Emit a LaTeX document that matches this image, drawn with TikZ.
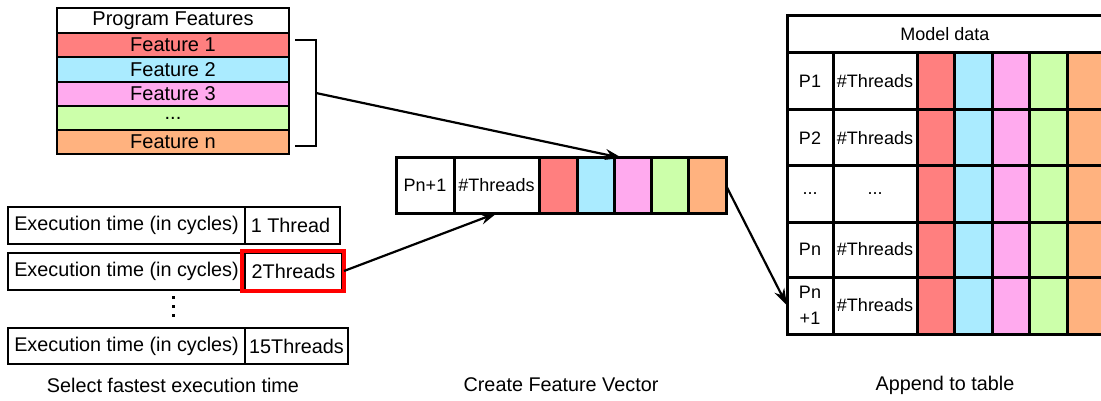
\documentclass[tikz,border=0pt]{standalone}
\usepackage{fontspec}
\setmainfont{Liberation Sans}
\usetikzlibrary{arrows.meta}
\definecolor{fone}{HTML}{FF7F7F}
\definecolor{ftwo}{HTML}{AAEBFF}
\definecolor{fthree}{HTML}{FFAAEE}
\definecolor{fdots}{HTML}{CCFFAA}
\definecolor{fn}{HTML}{FFB27F}
\tikzset{
  cell/.style={draw, line width=1.3pt, rectangle, inner sep=0pt, outer sep=0pt, anchor=north west,
    font=\fontsize{18}{19}\selectfont},
  list cell/.style={cell, font=\fontsize{20}{21}\selectfont},
  thick cell/.style={cell, line width=3pt},
  exec cell/.style={cell, line width=1.3pt, font=\fontsize{19.8}{21}\selectfont},
  caption/.style={font=\fontsize{19.8}{21}\selectfont, inner sep=0pt},
  flow/.style={line width=2.2pt, -{Stealth[length=17pt, width=11pt]}},
}
\newcommand{\cellat}[6]{% style, name, x, y, w, h ... text
  \node[#1, minimum width=#5pt, minimum height=#6pt] (#2) at (#3,#4)}
\newcommand{\tdots}{...}
\begin{document}
\begin{tikzpicture}[x=1pt, y=-1pt]
\useasboundingbox (0,0) rectangle (1101,401);
\clip (0,0) rectangle (1101,401);

% program features list
\cellat{list cell}{pf}{57}{8}{232}{25} {Program Features};
\cellat{list cell, fill=fone}{pf1}{57}{33}{232}{24} {Feature 1};
\cellat{list cell, fill=ftwo}{pf2}{57}{57}{232}{25} {Feature 2};
\cellat{list cell, fill=fthree}{pf3}{57}{82}{232}{24} {Feature 3};
\cellat{list cell, fill=fdots}{pfd}{57}{106}{232}{24} {\tdots};
\cellat{list cell, fill=fn}{pfn}{57}{130}{232}{24} {Feature n};

% bracket grouping the features
\coordinate (bt) at (295,40);
\coordinate (bb) at (295,146);
\coordinate (bm) at (316,93);
\draw[line width=2.2pt] (bt) -- (316,40) -- (316,146) -- (bb);

% execution times
\cellat{exec cell}{e1}{8}{207}{237}{37} {Execution time (in cycles)};
\cellat{exec cell}{t1}{245}{207}{95}{37} {\hspace*{-4pt}1 Thread};
\cellat{exec cell}{e2}{8}{253}{237}{37} {Execution time (in cycles)};
\cellat{exec cell}{t2}{245}{253}{97}{37} {2Threads};
\node[draw=red, line width=4.5pt, inner sep=0pt, outer sep=0pt, minimum width=102pt, minimum height=40pt, anchor=north west] (sel) at (242,251) {};
\cellat{exec cell}{e3}{8}{328}{237}{36} {Execution time (in cycles)};
\cellat{exec cell}{t3}{245}{328}{103}{36} {15Threads};
\foreach \yy in {297,306,315} \fill (171.5,\yy-1.5) rectangle (174.5,\yy+1.5);
\node[caption] (c1) at (173,385) {Select fastest execution time};

% feature vector
\cellat{thick cell}{vp}{396}{158}{58}{55} {Pn+1};
\cellat{thick cell}{vt}{454}{158}{85}{55} {\#Threads};
\cellat{thick cell, fill=fone}{v1}{539}{158}{38}{55} {};
\cellat{thick cell, fill=ftwo}{v2}{577}{158}{37}{55} {};
\cellat{thick cell, fill=fthree}{v3}{614}{158}{37}{55} {};
\cellat{thick cell, fill=fdots}{v4}{651}{158}{37}{55} {};
\cellat{thick cell, fill=fn}{v5}{688}{158}{38}{55} {};
\node[caption] (c2) at (561,385) {Create Feature Vector};

% model data table
\cellat{thick cell}{mh}{787}{16}{330}{37} {};
\node[cell, draw=none, anchor=center] (mhl) at (945,34.5) {Model data};
\foreach \r/\ya/\h/\lab in {1/53/57/P1, 2/110/56/P2, 3/166/56/\tdots, 4/222/55/Pn, 5/277/57/{Pn\\[7pt]+1}} {
  \cellat{thick cell, align=center}{mp\r}{787}{\ya}{46}{\h} {\lab};
  \ifnum\r=3
    \cellat{thick cell}{mt\r}{833}{\ya}{84}{\h} {\tdots};
  \else
    \cellat{thick cell}{mt\r}{833}{\ya}{84}{\h} {\#Threads};
  \fi
  \cellat{thick cell, fill=fone}{ma\r}{917}{\ya}{37}{\h} {};
  \cellat{thick cell, fill=ftwo}{mb\r}{954}{\ya}{38}{\h} {};
  \cellat{thick cell, fill=fthree}{mc\r}{992}{\ya}{37}{\h} {};
  \cellat{thick cell, fill=fdots}{md\r}{1029}{\ya}{38}{\h} {};
  \cellat{thick cell, fill=fn}{me\r}{1067}{\ya}{50}{\h} {};
}
\node[caption] (c3) at (945,385) {Append to table};

% flow arrows
\draw[flow] (bm) -- ([xshift=8pt]v3.north west);
\draw[flow] (sel.east) -- ([xshift=43pt]vt.south west);
\draw[flow] (v5.east) -- (mp5.west);
\end{tikzpicture}
\end{document}
